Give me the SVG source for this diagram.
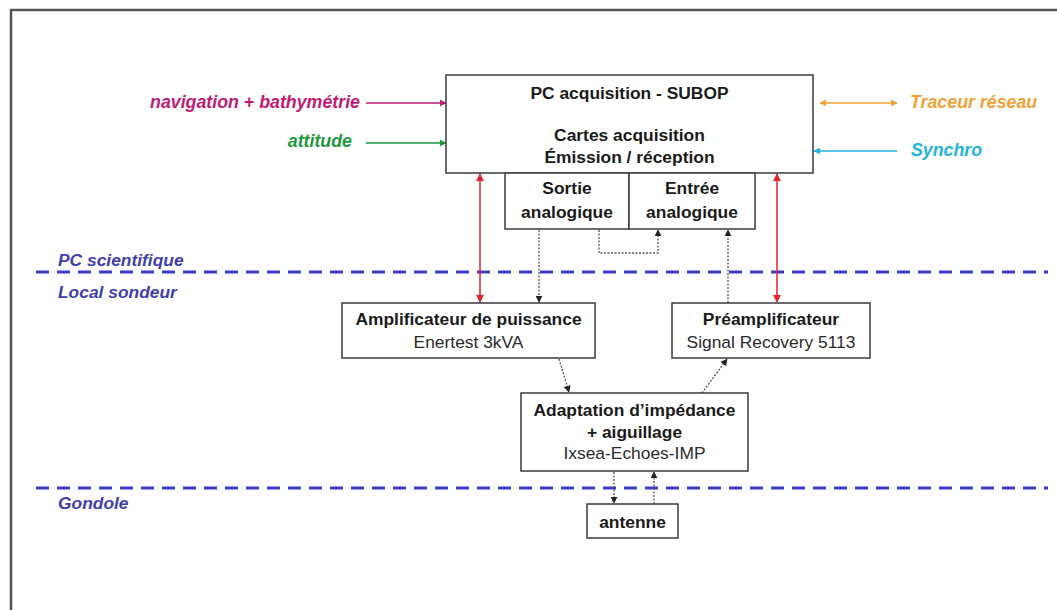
<svg xmlns="http://www.w3.org/2000/svg" width="1057" height="610" viewBox="0 0 1057 610">
<style>
  .box { fill: #ffffff; stroke: #3a3a3a; stroke-width: 1.5; }
  .b { font-family: "Liberation Sans", Arial, sans-serif; font-weight: bold; font-size: 17.4px; fill: #1a1a1a; text-anchor: middle; }
  .n { font-family: "Liberation Sans", Arial, sans-serif; font-size: 17.4px; fill: #2a2a2a; text-anchor: middle; }
  .lbl { font-family: "Liberation Sans", Arial, sans-serif; font-weight: bold; font-style: italic; font-size: 17.8px; }
  .zone { font-family: "Liberation Sans", Arial, sans-serif; font-weight: bold; font-style: italic; font-size: 17.4px; fill: #4040a8; }
  .dash { stroke: #3b3bc4; stroke-width: 3; stroke-dasharray: 13 8; fill: none; }
  .dot { stroke: #555; stroke-width: 1.3; stroke-dasharray: 2 1.5; fill: none; }
</style>
<defs>
  <marker id="aPink" viewBox="0 0 10 10" refX="9" refY="5" markerWidth="7" markerHeight="7" orient="auto-start-reverse" markerUnits="userSpaceOnUse"><path d="M0,0 L10,5 L0,10 z" fill="#c21a72"/></marker>
  <marker id="aGreen" viewBox="0 0 10 10" refX="9" refY="5" markerWidth="7" markerHeight="7" orient="auto-start-reverse" markerUnits="userSpaceOnUse"><path d="M0,0 L10,5 L0,10 z" fill="#1e9a3c"/></marker>
  <marker id="aOrange" viewBox="0 0 10 10" refX="9" refY="5" markerWidth="7" markerHeight="7" orient="auto-start-reverse" markerUnits="userSpaceOnUse"><path d="M0,0 L10,5 L0,10 z" fill="#eea236"/></marker>
  <marker id="aCyan" viewBox="0 0 10 10" refX="9" refY="5" markerWidth="7" markerHeight="7" orient="auto-start-reverse" markerUnits="userSpaceOnUse"><path d="M0,0 L10,5 L0,10 z" fill="#22b4dc"/></marker>
  <marker id="aRed" viewBox="0 0 10 10" refX="9" refY="5" markerWidth="8" markerHeight="8" orient="auto-start-reverse" markerUnits="userSpaceOnUse"><path d="M0,0 L10,5 L0,10 z" fill="#e8202a"/></marker>
  <marker id="aDark" viewBox="0 0 10 10" refX="9" refY="5" markerWidth="7" markerHeight="7" orient="auto-start-reverse" markerUnits="userSpaceOnUse"><path d="M0,0 L10,5 L0,10 z" fill="#222"/></marker>
</defs>
<rect width="1057" height="610" fill="#ffffff"/>
<path d="M11,610 L11,10 L1057,10" fill="none" stroke="#555" stroke-width="2.5"/>

<g id="zones">
  <line class="dash" x1="36" y1="272" x2="1048" y2="272"/>
  <line class="dash" x1="36" y1="488" x2="1048" y2="488"/>
  <text class="zone" x="58" y="266">PC scientifique</text>
  <text class="zone" x="58" y="298">Local sondeur</text>
  <text class="zone" x="58" y="509">Gondole</text>
</g>

<g id="connectors">
  <line x1="366" y1="103" x2="446" y2="103" stroke="#c21a72" stroke-width="1.3" marker-end="url(#aPink)"/>
  <line x1="366" y1="143" x2="446" y2="143" stroke="#1e9a3c" stroke-width="1.3" marker-end="url(#aGreen)"/>
  <line x1="820" y1="103" x2="897" y2="103" stroke="#eea236" stroke-width="1.3" marker-start="url(#aOrange)" marker-end="url(#aOrange)"/>
  <line x1="897" y1="151" x2="814" y2="151" stroke="#22b4dc" stroke-width="1.3" marker-end="url(#aCyan)"/>
  <line x1="480" y1="174" x2="480" y2="302" stroke="#e8202a" stroke-width="1.5" marker-start="url(#aRed)" marker-end="url(#aRed)"/>
  <line x1="777" y1="174" x2="777" y2="302" stroke="#e8202a" stroke-width="1.5" marker-start="url(#aRed)" marker-end="url(#aRed)"/>
  <line class="dot" x1="539" y1="230" x2="539" y2="302" marker-end="url(#aDark)"/>
  <polyline class="dot" points="599,230 599,253 658,253 658,230" marker-end="url(#aDark)"/>
  <line class="dot" x1="728" y1="303" x2="728" y2="230" marker-end="url(#aDark)"/>
  <line class="dot" x1="559" y1="359" x2="569" y2="392" marker-end="url(#aDark)"/>
  <line class="dot" x1="702" y1="393" x2="727" y2="359" marker-end="url(#aDark)"/>
  <line class="dot" x1="614" y1="472" x2="614" y2="503" marker-end="url(#aDark)"/>
  <line class="dot" x1="654" y1="504" x2="654" y2="472" marker-end="url(#aDark)"/>
</g>

<g id="inputs">
  <text class="lbl" x="360" y="108" text-anchor="end" fill="#c21a72">navigation + bathymétrie</text>
  <text class="lbl" x="352" y="147" text-anchor="end" fill="#1e9a3c">attitude</text>
  <text class="lbl" x="910" y="108" fill="#eea236">Traceur réseau</text>
  <text class="lbl" x="911" y="156" fill="#22b4dc">Synchro</text>
</g>

<g id="pc-acquisition">
  <rect class="box" x="446" y="75" width="367" height="98"/>
  <text class="b" x="629.5" y="99">PC acquisition - SUBOP</text>
  <text class="b" x="629.5" y="141">Cartes acquisition</text>
  <text class="b" x="629.5" y="163">Émission / réception</text>
</g>

<g id="sortie-analogique">
  <rect class="box" x="505" y="173" width="124" height="56"/>
  <text class="b" x="567" y="194">Sortie</text>
  <text class="b" x="567" y="218">analogique</text>
</g>

<g id="entree-analogique">
  <rect class="box" x="629" y="173" width="126" height="56"/>
  <text class="b" x="692" y="194">Entrée</text>
  <text class="b" x="692" y="218">analogique</text>
</g>

<g id="amplificateur">
  <rect class="box" x="342" y="303" width="253" height="55"/>
  <text class="b" x="468.5" y="325">Amplificateur de puissance</text>
  <text class="n" x="468.5" y="348">Enertest 3kVA</text>
</g>

<g id="preamplificateur">
  <rect class="box" x="672" y="303" width="198" height="55"/>
  <text class="b" x="771" y="325">Préamplificateur</text>
  <text class="n" x="771" y="348">Signal Recovery 5113</text>
</g>

<g id="adaptation">
  <rect class="box" x="521" y="393" width="227" height="78"/>
  <text class="b" x="634.5" y="416">Adaptation d’impédance</text>
  <text class="b" x="634.5" y="438">+ aiguillage</text>
  <text class="n" x="634.5" y="459">Ixsea-Echoes-IMP</text>
</g>

<g id="antenne">
  <rect class="box" x="587" y="504" width="91" height="34"/>
  <text class="b" x="632.5" y="528">antenne</text>
</g>
</svg>
